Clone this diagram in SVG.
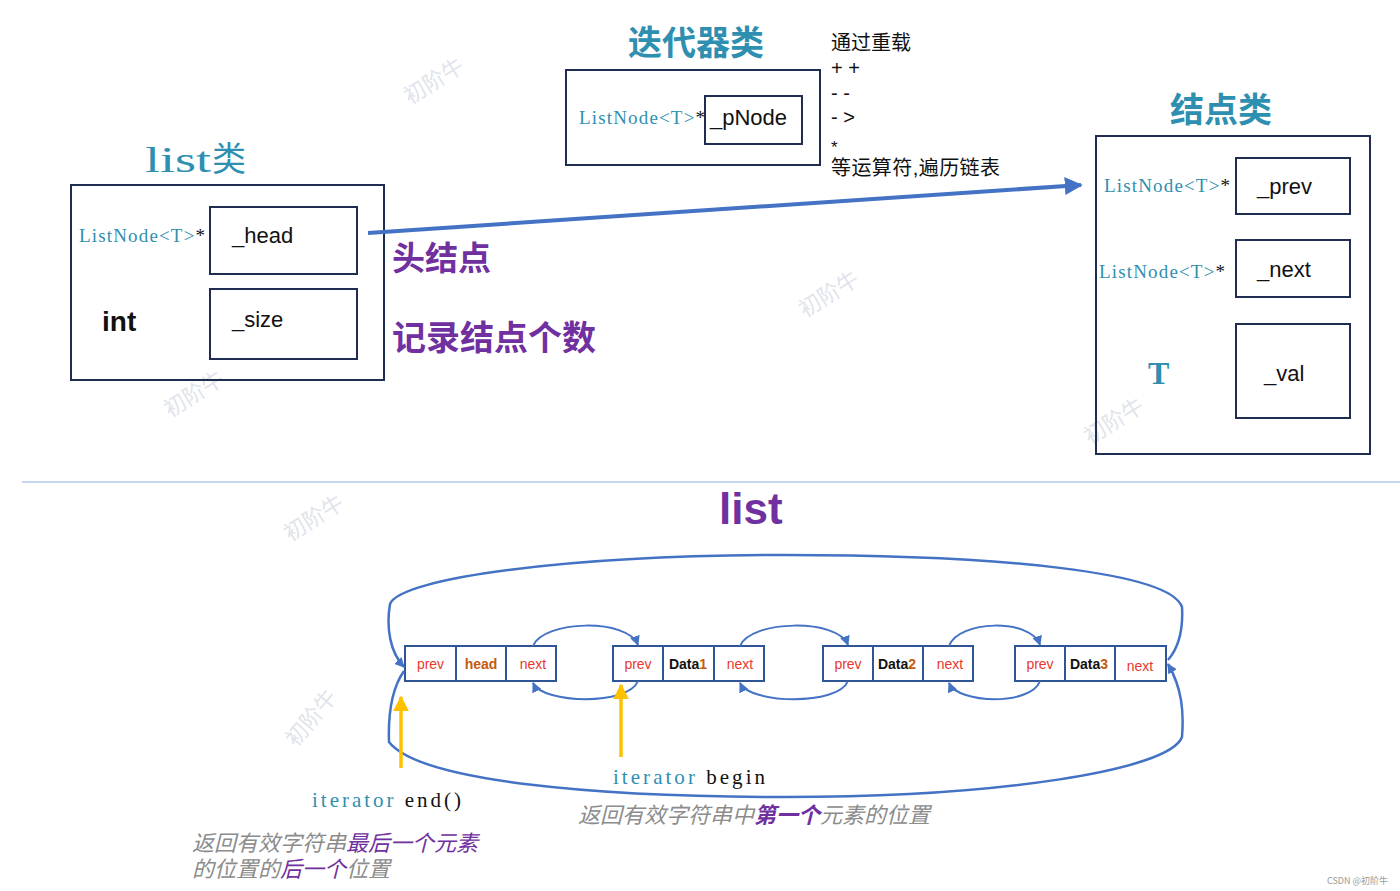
<svg xmlns="http://www.w3.org/2000/svg" width="1400" height="891" viewBox="0 0 1400 891">
<style>
.box{fill:none;stroke:#1f2d50;stroke-width:2}
.cell{fill:#fff;stroke:#2f5597;stroke-width:2}
.teal{fill:#2f8fb0}
.ser{font-family:"Liberation Serif","Noto Sans CJK SC",serif}
.sans{font-family:"Liberation Sans","Noto Sans CJK SC",sans-serif}
.cjk{font-family:"Noto Sans CJK SC",sans-serif}
.title{font-family:"Noto Sans CJK SC",sans-serif;font-weight:bold;fill:#2f8fb0;font-size:34px}
.fld{font-family:"Liberation Sans","Noto Sans",sans-serif;font-size:22px;fill:#111}
.pur{fill:#7030a0;font-weight:bold}
.red{font-family:"Liberation Sans",sans-serif;font-size:14px;fill:#e8372f}
.dat{font-family:"Liberation Sans",sans-serif;font-size:14px;font-weight:bold;fill:#111}
.org{fill:#c55a11}
.wm{font-family:"Noto Sans CJK SC",sans-serif;font-size:22px;fill:#dfe4ec}
.arc{fill:none;stroke:#4472c4;stroke-width:2}
.loop{fill:none;stroke:#4472c4;stroke-width:2.5}
.gray{font-family:"Liberation Sans","Noto Sans CJK SC",sans-serif;font-style:italic;fill:#8c8c8c;font-size:22px}
</style>
<defs>
<marker id="ab" viewBox="0 0 10 10" refX="9" refY="5" markerWidth="5" markerHeight="5" orient="auto" markerUnits="strokeWidth"><path d="M0,0 L10,5 L0,10 z" fill="#4472c4"/></marker>
<marker id="abig" viewBox="0 0 10 10" refX="9" refY="5" markerWidth="4.5" markerHeight="4.5" orient="auto" markerUnits="strokeWidth"><path d="M0,0 L10,5 L0,10 z" fill="#4472c4"/></marker>
<marker id="ay" viewBox="0 0 10 10" refX="9" refY="5" markerWidth="4.5" markerHeight="4.5" orient="auto" markerUnits="strokeWidth"><path d="M0,0 L10,5 L0,10 z" fill="#ffc000"/></marker>
<marker id="am" viewBox="0 0 10 10" refX="9" refY="5" markerWidth="4" markerHeight="4" orient="auto" markerUnits="strokeWidth"><path d="M0,0 L10,5 L0,10 z" fill="#4472c4"/></marker>
</defs>
<rect width="1400" height="891" fill="#fff"/>

<g id="watermarks">
<text class="wm" transform="translate(410,105) rotate(-32)">初阶牛</text>
<text class="wm" transform="translate(170,418) rotate(-32)">初阶牛</text>
<text class="wm" transform="translate(805,318) rotate(-32)">初阶牛</text>
<text class="wm" transform="translate(1090,445) rotate(-32)">初阶牛</text>
<text class="wm" transform="translate(290,542) rotate(-32)">初阶牛</text>
<text class="wm" transform="translate(296,748) rotate(-50)">初阶牛</text>
</g>

<g id="list-class">
<text x="145" y="172" class="ser teal" font-size="36" textLength="66" lengthAdjust="spacingAndGlyphs">list</text>
<text x="212" y="171" class="cjk teal" font-size="34">类</text>
<rect class="box" x="71" y="185" width="313" height="195"/>
<rect class="box" x="210" y="207" width="147" height="67"/>
<rect class="box" x="210" y="289" width="147" height="70"/>
<text x="79" y="242" class="ser teal" font-size="19" textLength="126">ListNode&lt;T&gt;<tspan fill="#111">*</tspan></text>
<text x="102" y="331" class="sans" font-size="28" font-weight="bold" fill="#111">int</text>
<text x="232" y="243" class="fld">_head</text>
<text x="232" y="327" class="fld">_size</text>
<text x="392" y="270" class="cjk pur" font-size="33">头结点</text>
<text x="392" y="350" class="cjk pur" font-size="34">记录结点个数</text>
</g>

<g id="iterator-class">
<text x="628" y="55" class="title" font-size="35">迭代器类</text>
<rect class="box" x="566" y="70" width="254" height="95"/>
<rect class="box" x="705" y="96" width="97" height="48"/>
<text x="579" y="124" class="ser teal" font-size="19" textLength="126">ListNode&lt;T&gt;<tspan fill="#111">*</tspan></text>
<text x="710" y="125" class="fld" font-size="23">_pNode</text>
<text class="sans" font-size="20" fill="#111"><tspan x="831" y="50">通过重载</tspan><tspan x="831" y="75">+ +</tspan><tspan x="831" y="100">- -</tspan><tspan x="831" y="124">- &gt;</tspan><tspan x="831" y="153" font-size="17">*</tspan><tspan x="831" y="175" textLength="169">等运算符,遍历链表</tspan></text>
</g>

<g id="node-class">
<text x="1170" y="122" class="title">结点类</text>
<rect class="box" x="1096" y="136" width="274" height="318"/>
<rect class="box" x="1236" y="158" width="114" height="56"/>
<rect class="box" x="1236" y="240" width="114" height="57"/>
<rect class="box" x="1236" y="324" width="114" height="94"/>
<text x="1104" y="192" class="ser teal" font-size="19" textLength="126">ListNode&lt;T&gt;<tspan fill="#111">*</tspan></text>
<text x="1099" y="278" class="ser teal" font-size="19" textLength="126">ListNode&lt;T&gt;<tspan fill="#111">*</tspan></text>
<text x="1148" y="384" class="ser teal" font-size="32" font-weight="bold">T</text>
<text x="1257" y="194" class="fld">_prev</text>
<text x="1257" y="277" class="fld">_next</text>
<text x="1264" y="381" class="fld">_val</text>
</g>

<line x1="22" y1="482" x2="1400" y2="482" stroke="#8ea9db" stroke-width="1"/>

<text x="719" y="524" class="sans" font-size="44" font-weight="bold" fill="#7030a0">list</text>

<g id="node0">
<rect class="cell" x="405" y="646" width="51" height="35"/>
<rect class="cell" x="456" y="646" width="50" height="35"/>
<rect class="cell" x="506" y="646" width="50" height="35"/>
<text x="430.5" y="669" class="red" text-anchor="middle">prev</text>
<text x="481" y="669" class="dat org" text-anchor="middle">head</text>
<text x="533" y="669" class="red" text-anchor="middle">next</text>
</g>
<g id="node1">
<rect class="cell" x="613" y="646" width="50" height="35"/>
<rect class="cell" x="663" y="646" width="51" height="35"/>
<rect class="cell" x="714" y="646" width="50" height="35"/>
<text x="638" y="669" class="red" text-anchor="middle">prev</text>
<text x="688" y="669" class="dat" text-anchor="middle">Data<tspan class="org">1</tspan></text>
<text x="740" y="669" class="red" text-anchor="middle">next</text>
</g>
<g id="node2">
<rect class="cell" x="823" y="646" width="50" height="35"/>
<rect class="cell" x="873" y="646" width="50" height="35"/>
<rect class="cell" x="923" y="646" width="50" height="35"/>
<text x="848" y="669" class="red" text-anchor="middle">prev</text>
<text x="897" y="669" class="dat" text-anchor="middle">Data<tspan class="org">2</tspan></text>
<text x="950" y="669" class="red" text-anchor="middle">next</text>
</g>
<g id="node3">
<rect class="cell" x="1015" y="646" width="50" height="35"/>
<rect class="cell" x="1065" y="646" width="50" height="35"/>
<rect class="cell" x="1115" y="646" width="51" height="35"/>
<text x="1040" y="669" class="red" text-anchor="middle">prev</text>
<text x="1089" y="669" class="dat" text-anchor="middle">Data<tspan class="org">3</tspan></text>
<text x="1140" y="671" class="red" text-anchor="middle">next</text>
</g>

<g id="connectors">
<line x1="368" y1="233" x2="1081" y2="185" stroke="#4472c4" stroke-width="4" marker-end="url(#abig)"/>
<path class="arc" d="M533,646 C543,620 628,618 638,645" marker-end="url(#ab)"/>
<path class="arc" d="M638,681 C628,706 543,704 533,683" marker-end="url(#ab)"/>
<path class="arc" d="M740,646 C750,620 838,618 848,645" marker-end="url(#ab)"/>
<path class="arc" d="M848,681 C838,706 750,704 740,683" marker-end="url(#ab)"/>
<path class="arc" d="M949,646 C958,620 1031,618 1040,645" marker-end="url(#ab)"/>
<path class="arc" d="M1040,681 C1031,706 958,704 949,683" marker-end="url(#ab)"/>
<path class="loop" d="M1168,660 C1181,645 1183,625 1182,607 C1170,572 1000,555 785,555 C570,555 400,578 390,604 C386,628 390,652 404,667" marker-end="url(#am)"/>
<path class="loop" d="M404,671 C392,688 388,712 389,742 C420,782 600,797 785,797 C1000,797 1170,770 1182,737 C1184,712 1182,688 1168,664" marker-end="url(#am)"/>
<line x1="401" y1="768" x2="401" y2="697" stroke="#ffc000" stroke-width="3.5" marker-end="url(#ay)"/>
<line x1="621" y1="757" x2="621" y2="685" stroke="#ffc000" stroke-width="3.5" marker-end="url(#ay)"/>
</g>

<g id="labels">
<text x="613" y="784" class="ser" font-size="21" textLength="152"><tspan class="teal">iterator</tspan><tspan fill="#111"> begin</tspan></text>
<text x="312" y="807" class="ser" font-size="21" textLength="149"><tspan class="teal">iterator</tspan><tspan fill="#111"> end()</tspan></text>
<text x="578" y="823" class="gray">返回有效字符串中<tspan fill="#7030a0" font-weight="bold">第一个</tspan>元素的位置</text>
<text class="gray"><tspan x="192" y="851">返回有效字符串</tspan><tspan fill="#7030a0">最后一个元素</tspan><tspan x="192" y="877">的位置的</tspan><tspan fill="#7030a0">后一个</tspan><tspan>位置</tspan></text>
<text x="1327" y="884" class="cjk" font-size="9" fill="#999">CSDN @初阶牛</text>
</g>
</svg>
